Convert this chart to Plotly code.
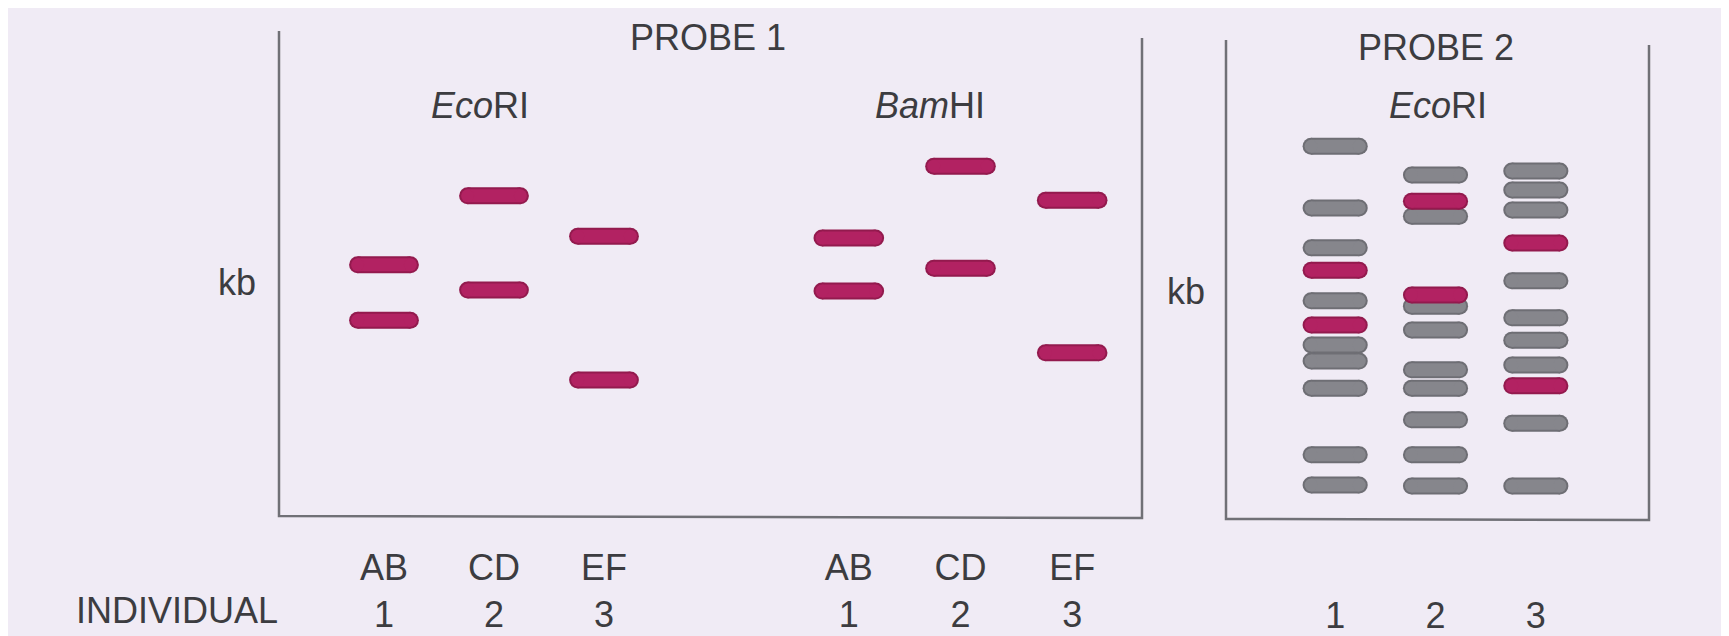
import plotly.graph_objects as go

# ── Data: band migration (% of gel length from the wells) ─────
P1_LANES = ["AB<br>1", "CD<br>2", "EF<br>3"]
P2_LANES = ["1", "2", "3"]

ECO1_BANDS = [[47.7, 59.1], [33.5, 52.9], [41.8, 71.4]]
BAM1_BANDS = [[42.2, 53.1], [27.4, 48.4], [34.4, 65.8]]

ECO2_GRAY = [
    [23.3, 36.0, 44.2, 55.1, 64.2, 67.5, 73.1, 86.8, 93.0],
    [29.2, 37.7, 56.2, 61.1, 69.3, 73.1, 79.6, 86.8, 93.2],
    [28.4, 32.3, 36.4, 51.0, 58.6, 63.2, 68.3, 80.3, 93.2],
]
ECO2_RED = [[48.8, 60.1], [34.6, 53.9], [43.2, 72.6]]

W, H = 1729, 636
BG = "#F0EBF5"
RED = ("#931A4E", "#B22262")      # (edge, core)
GRAY = ("#6E6E74", "#86868C")
TXT = "#3c3c40"
LINE = "#707076"
FONT = "Liberation Sans, Arial, sans-serif"
FS = 36
BAND = 17          # band thickness, px
HALF = 0.24        # half length of the straight part, lane units


def band_traces(bands, colors, xaxis):
    """One rounded band = dark edge stroke + lighter core stroke."""
    out = []
    for i, lane in enumerate(bands):
        for m in lane:
            for color, w in ((colors[0], BAND), (colors[1], BAND - 4)):
                out.append(go.Scatter(
                    x=[i - HALF, i + HALF], y=[m, m], xaxis=xaxis, yaxis="y",
                    mode="lines+markers", hoverinfo="skip", showlegend=False,
                    line=dict(color=color, width=w),
                    marker=dict(color=color, size=w, line=dict(width=0)),
                ))
    return out


fig = go.Figure()
for tr in (band_traces(ECO1_BANDS, RED, "x")
           + band_traces(BAM1_BANDS, RED, "x2")
           + band_traces(ECO2_GRAY, GRAY, "x3")
           + band_traces(ECO2_RED, RED, "x3")):
    fig.add_trace(tr)


def px(x):
    return x / W


def py(y):
    return 1 - y / H


def lane_axis(lo, hi, labels, standoff):
    return dict(
        domain=[px(lo), px(hi)], range=[-0.5, 2.5], anchor="y",
        showgrid=False, zeroline=False, showline=False, ticks="",
        tickvals=list(range(len(labels))), ticktext=labels,
        ticklabelstandoff=standoff, fixedrange=True,
        tickfont=dict(family=FONT, size=FS, color=TXT),
    )


# open-topped gel boxes
boxes = [
    (271, 23, 508, 1134, 30, 510),
    (1218, 32, 511, 1641, 37, 512),
]
shapes = []
for x0, yt0, yb0, x1, yt1, yb1 in boxes:
    shapes.append(dict(
        type="path", xref="paper", yref="paper",
        path=f"M {px(x0)},{py(yt0)} L {px(x0)},{py(yb0)} "
             f"L {px(x1)},{py(yb1)} L {px(x1)},{py(yt1)}",
        line=dict(color=LINE, width=2.5),
    ))

labels = [
    ("PROBE 1", 700, 30, "center"),
    ("<i>Eco</i>RI", 472, 97, "center"),
    ("<i>Bam</i>HI", 922, 97, "center"),
    ("kb", 229, 274, "center"),
    ("PROBE 2", 1428, 40, "center"),
    ("<i>Eco</i>RI", 1430, 98, "center"),
    ("kb", 1178, 283, "center"),
    ("INDIVIDUAL", 272, 602, "right"),
]
annotations = [
    dict(text=t, x=px(x), y=py(y), xref="paper", yref="paper",
         xanchor=a, yanchor="middle", showarrow=False,
         font=dict(family=FONT, size=FS, color=TXT))
    for t, x, y, a in labels
]

fig.update_layout(
    width=W, height=H,
    margin=dict(l=0, r=0, t=0, b=0),
    paper_bgcolor=BG, plot_bgcolor=BG,
    xaxis=lane_axis(321, 651, P1_LANES, 24),
    xaxis2=lane_axis(785, 1120, P1_LANES, 24),
    xaxis3=lane_axis(1277, 1578, P2_LANES, 72),
    yaxis=dict(domain=[py(511), py(25)], range=[100, 0], visible=False,
               fixedrange=True),
    shapes=shapes,
    annotations=annotations,
    showlegend=False,
)

fig.write_html("out.html", config={"displayModeBar": False})
